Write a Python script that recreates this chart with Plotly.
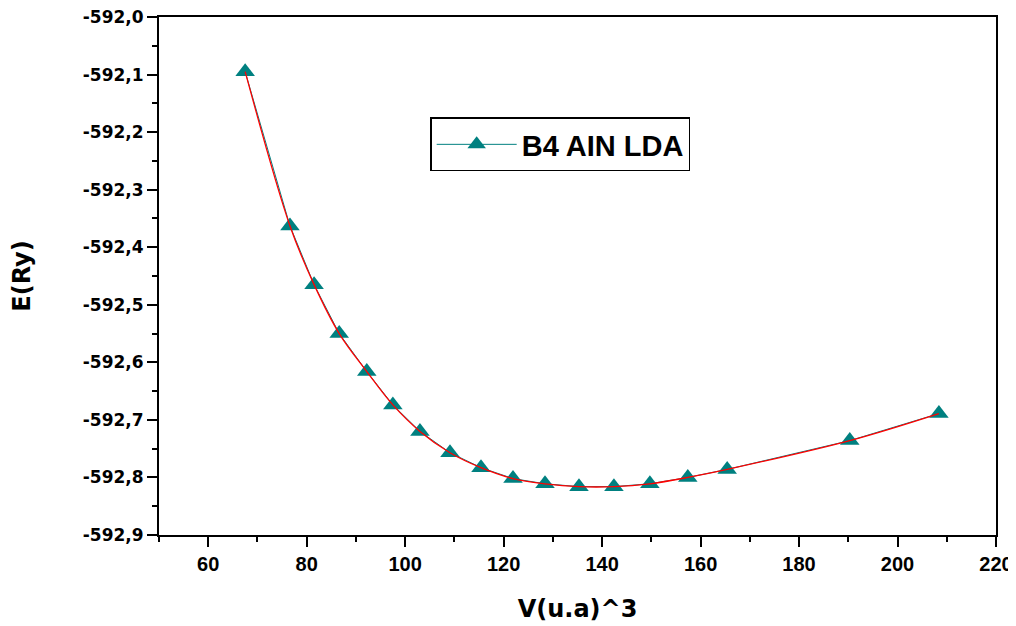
import plotly.graph_objects as go

# Data
volume = [67.5, 76.6, 81.5, 86.6, 92.2, 97.5, 103.0, 109.1, 115.4, 121.9,
          128.4, 135.3, 142.4, 149.7, 157.4, 165.4, 190.3, 208.4]
energy = [-592.095, -592.363, -592.465, -592.550, -592.616, -592.674, -592.720,
          -592.757, -592.783, -592.802, -592.811, -592.816, -592.816, -592.811,
          -592.800, -592.786, -592.736, -592.689]

y_tickvals = [-592.9, -592.8, -592.7, -592.6, -592.5, -592.4, -592.3, -592.2, -592.1, -592.0]
y_ticktext = ["-592,9", "-592,8", "-592,7", "-592,6", "-592,5", "-592,4", "-592,3", "-592,2", "-592,1", "-592,0"]
x_tickvals = [60, 80, 100, 120, 140, 160, 180, 200, 220]
x_ticktext = ["60", "80", "100", "120", "140", "160", "180", "200", "220"]

series_name = "B4 AIN LDA"
teal = "#008080"

def bold(labels):
    return ["<b>%s</b>" % t for t in labels]

fig = go.Figure()
fig.add_trace(go.Scatter(
    x=volume, y=energy, mode="lines+markers", name="<b>%s</b>" % series_name,
    line=dict(color=teal, width=1),
    marker=dict(symbol="triangle-up", size=17, color=teal),
))
fig.add_trace(go.Scatter(
    x=volume, y=energy, mode="lines", showlegend=False,
    line=dict(color="red", width=1.3, shape="spline", smoothing=1.0),
))

axis_common = dict(
    showgrid=False, zeroline=False, showline=True, linecolor="black", linewidth=2,
    mirror=True, ticks="outside", ticklen=10, tickwidth=2, tickcolor="black",
    ticklabeloverflow="allow",
)

# page body adds an 8px offset; margins compensate for it
fig.update_layout(
    width=1016, height=626,
    margin=dict(l=151, r=28, t=9, b=99, autoexpand=False),
    plot_bgcolor="white", paper_bgcolor="white",
    xaxis=dict(
        range=[50, 220], tickvals=x_tickvals, ticktext=bold(x_ticktext),
        tickfont=dict(family="Liberation Sans", size=20, color="black"),
        title=dict(text="<b>V(u.a)^3</b>", font=dict(family="DejaVu Sans", size=24, color="black"), standoff=26),
        minor=dict(ticks="outside", ticklen=5, tickwidth=2, tickcolor="black", dtick=10, tick0=50),
        **axis_common,
    ),
    yaxis=dict(
        range=[-592.9, -592.0], tickvals=y_tickvals, ticktext=bold(y_ticktext),
        tickfont=dict(family="DejaVu Sans", size=17, color="black"),
        title=dict(text="<b>E(Ry)</b>", font=dict(family="DejaVu Sans", size=24, color="black"), standoff=45),
        minor=dict(ticks="outside", ticklen=5, tickwidth=2, tickcolor="black", dtick=0.05, tick0=-592.95),
        **axis_common,
    ),
    legend=dict(
        x=0.324, y=0.806, xanchor="left", yanchor="top",
        bgcolor="white", bordercolor="black", borderwidth=1.5,
        font=dict(family="Liberation Sans", size=29, color="black"),
        itemwidth=80,
    ),
    showlegend=True,
)

fig.write_html("out.html")
